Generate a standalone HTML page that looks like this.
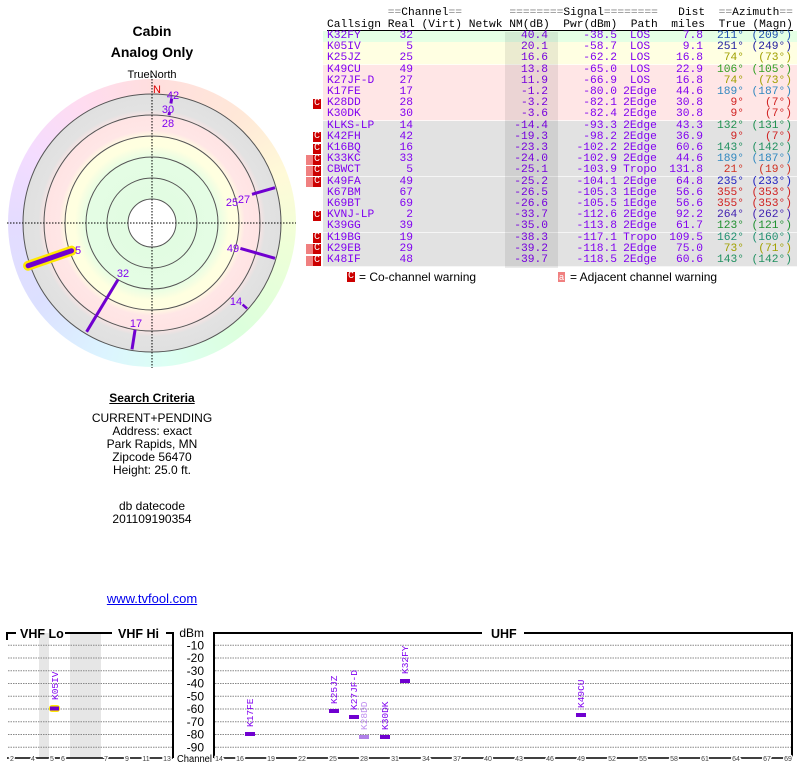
<!DOCTYPE html>
<html><head><meta charset="utf-8"><style>
body{margin:0;width:800px;height:768px;background:#fff;position:relative;overflow:hidden;font-family:"Liberation Sans",sans-serif}
.a{position:absolute}
.ctr{position:absolute;left:0;width:304px;text-align:center;font-size:12px;color:#000;line-height:13px}
.mono{font-family:"Liberation Mono",monospace;font-size:11.25px;line-height:12px;white-space:pre}
.row{position:absolute;left:323px;width:474px;height:11px;border-bottom:1px solid rgba(255,255,255,.7)}
.row span{position:absolute;top:-1px;font-family:"Liberation Mono",monospace;font-size:11.25px;color:#8000f0;white-space:pre}
.cs{left:4px}.rl{right:384px}.nm{right:249px}.pw{right:180px}.pa{left:297px;width:40px;text-align:center}.di{right:94px}.tr{right:53px}.mg{right:5px}
.g{background:#e4ffe4}.y{background:#ffffe2}.p{background:#ffe6e6}.gr{background:#e2e2e2}
.cb{position:absolute;left:313px;width:8px;height:10px;background:#c00;color:#fff;font-family:"Liberation Mono",monospace;font-size:10px;line-height:10px;text-align:center}
.ab{position:absolute;left:306px;width:7px;height:10px;background:#f08080}
</style></head><body>

<div class="ctr" style="top:23px;font-size:14px;font-weight:bold;line-height:16px">Cabin</div>
<div class="ctr" style="top:44px;font-size:14px;font-weight:bold;line-height:16px">Analog Only</div>
<div class="ctr" style="top:69px;font-size:11px">TrueNorth</div>

<div class="a" style="left:8px;top:79px;width:288px;height:288px;border-radius:50%;background:conic-gradient(#ffdede 0deg,#ffe8d8 40deg,#fffad8 70deg,#eeffd8 100deg,#dcffdc 140deg,#dcfff4 175deg,#dcf4ff 200deg,#dce0ff 235deg,#e4dcff 270deg,#f4dcff 300deg,#ffdcf0 330deg,#ffdede 360deg)"></div>

<svg class="a" style="left:0;top:0" width="310" height="380">
<defs><radialGradient id="rg" gradientUnits="userSpaceOnUse" cx="152" cy="223" r="129">
<stop offset="0.18" stop-color="#e2fce2"/><stop offset="0.5" stop-color="#e4fde4"/><stop offset="0.6" stop-color="#ffffe0"/><stop offset="0.66" stop-color="#ffffe0"/><stop offset="0.72" stop-color="#ffe6e6"/><stop offset="0.82" stop-color="#ffe4e4"/><stop offset="0.88" stop-color="#e2e2e2"/><stop offset="1" stop-color="#e0e0e0"/></radialGradient></defs>
<circle cx="152" cy="223" r="129" fill="url(#rg)" stroke="#555" stroke-width="1"/>
<g fill="none" stroke="#555" stroke-width="1">
<circle cx="152" cy="223" r="108"/><circle cx="152" cy="223" r="87"/><circle cx="152" cy="223" r="66"/><circle cx="152" cy="223" r="45"/></g>
<circle cx="152" cy="223" r="24" fill="#fff" stroke="#555"/>
<line x1="7" y1="223" x2="296" y2="223" stroke="#000" stroke-dasharray="1.5,1.5"/>
<line x1="152" y1="76" x2="152" y2="368" stroke="#000" stroke-dasharray="1.5,1.5"/>
<g stroke-linecap="round">
<line x1="71.6" y1="250.7" x2="28.1" y2="265.7" stroke="#ffe800" stroke-width="10"/>
<line x1="71.6" y1="250.7" x2="28.1" y2="265.7" stroke="#7000d0" stroke-width="5"/>
</g>
<g stroke="#7000d0" stroke-width="3">
<line x1="118" y1="279.6" x2="86.6" y2="331.8"/>
<line x1="135.1" y1="329.7" x2="132" y2="349.4"/>
<line x1="252" y1="194.3" x2="275" y2="187.7"/>
<line x1="240.4" y1="248.4" x2="275" y2="258.3"/>
<line x1="242.6" y1="304.6" x2="247.1" y2="308.6" stroke-width="2.5"/>
<line x1="170.9" y1="103.5" x2="171.7" y2="98.5"/>
<line x1="169" y1="115.3" x2="169.5" y2="112.3"/>
</g>
<g font-family="Liberation Sans,sans-serif" font-size="11" fill="#8000f0" text-anchor="middle">
<text x="157" y="93" fill="#d00">N</text>
<text x="173" y="99">42</text><text x="168" y="113">30</text><text x="168" y="127">28</text>
<text x="232" y="206">25</text><text x="244" y="203">27</text>
<text x="78" y="254">5</text><text x="233" y="252">49</text>
<text x="123" y="277">32</text><text x="136" y="327">17</text><text x="236" y="305">14</text>
</g>
</svg>

<div class="ctr" style="top:392px;font-weight:bold;text-decoration:underline">Search Criteria</div>
<div class="ctr" style="top:412px">CURRENT+PENDING<br>Address: exact<br>Park Rapids, MN<br>Zipcode 56470<br>Height: 25.0 ft.</div>
<div class="ctr" style="top:500px">db datecode<br>201109190354</div>
<div class="ctr" style="top:592px;color:#0000ee;text-decoration:underline;font-size:13px">www.tvfool.com</div>

<!-- table header -->
<div class="a mono" style="left:327px;top:7px;color:#000">         <span style="color:#888">==</span>Channel<span style="color:#888">==</span>       <span style="color:#888">========</span>Signal<span style="color:#888">========</span>   Dist  <span style="color:#888">==</span>Azimuth<span style="color:#888">==</span></div>
<div class="a mono" style="left:327px;top:19px;color:#000">Callsign Real (Virt) Netwk NM(dB)  Pwr(dBm)  Path  miles  True (Magn)</div>
<div class="a" style="left:327px;top:30px;width:466px;height:1px;background:#000"></div>
<div class="a" style="left:505px;top:32px;width:53px;height:236px;background:rgba(0,0,0,.08);z-index:2"></div>

<div class="row g" style="top:31px"><span class="cs">K32FY</span><span class="rl">32</span><span class="nm">40.4</span><span class="pw">-38.5</span><span class="pa">LOS</span><span class="di">7.8</span><span class="tr" style="color:#2050b0">211°</span><span class="mg" style="color:#2050b0">(209°)</span></div>
<div class="row y" style="top:42.2px"><span class="cs">K05IV</span><span class="rl">5</span><span class="nm">20.1</span><span class="pw">-58.7</span><span class="pa">LOS</span><span class="di">9.1</span><span class="tr" style="color:#2020a0">251°</span><span class="mg" style="color:#2020a0">(249°)</span></div>
<div class="row y" style="top:53.4px"><span class="cs">K25JZ</span><span class="rl">25</span><span class="nm">16.6</span><span class="pw">-62.2</span><span class="pa">LOS</span><span class="di">16.8</span><span class="tr" style="color:#a0a000">74°</span><span class="mg" style="color:#a0a000">(73°)</span></div>
<div class="row p" style="top:64.6px"><span class="cs">K49CU</span><span class="rl">49</span><span class="nm">13.8</span><span class="pw">-65.0</span><span class="pa">LOS</span><span class="di">22.9</span><span class="tr" style="color:#30a020">106°</span><span class="mg" style="color:#30a020">(105°)</span></div>
<div class="row p" style="top:75.8px"><span class="cs">K27JF-D</span><span class="rl">27</span><span class="nm">11.9</span><span class="pw">-66.9</span><span class="pa">LOS</span><span class="di">16.8</span><span class="tr" style="color:#a0a000">74°</span><span class="mg" style="color:#a0a000">(73°)</span></div>
<div class="row p" style="top:87px"><span class="cs">K17FE</span><span class="rl">17</span><span class="nm">-1.2</span><span class="pw">-80.0</span><span class="pa">2Edge</span><span class="di">44.6</span><span class="tr" style="color:#3088c0">189°</span><span class="mg" style="color:#3088c0">(187°)</span></div>
<div class="row p" style="top:98.2px"><span class="cs">K28DD</span><span class="rl">28</span><span class="nm">-3.2</span><span class="pw">-82.1</span><span class="pa">2Edge</span><span class="di">30.8</span><span class="tr" style="color:#d02020">9°</span><span class="mg" style="color:#d02020">(7°)</span></div>
<div class="row p" style="top:109.4px"><span class="cs">K30DK</span><span class="rl">30</span><span class="nm">-3.6</span><span class="pw">-82.4</span><span class="pa">2Edge</span><span class="di">30.8</span><span class="tr" style="color:#d02020">9°</span><span class="mg" style="color:#d02020">(7°)</span></div>
<div class="row gr" style="top:120.6px"><span class="cs">KLKS-LP</span><span class="rl">14</span><span class="nm">-14.4</span><span class="pw">-93.3</span><span class="pa">2Edge</span><span class="di">43.3</span><span class="tr" style="color:#209050">132°</span><span class="mg" style="color:#209050">(131°)</span></div>
<div class="row gr" style="top:131.8px"><span class="cs">K42FH</span><span class="rl">42</span><span class="nm">-19.3</span><span class="pw">-98.2</span><span class="pa">2Edge</span><span class="di">36.9</span><span class="tr" style="color:#d02020">9°</span><span class="mg" style="color:#d02020">(7°)</span></div>
<div class="row gr" style="top:143px"><span class="cs">K16BQ</span><span class="rl">16</span><span class="nm">-23.3</span><span class="pw">-102.2</span><span class="pa">2Edge</span><span class="di">60.6</span><span class="tr" style="color:#209060">143°</span><span class="mg" style="color:#209060">(142°)</span></div>
<div class="row gr" style="top:154.2px"><span class="cs">K33KC</span><span class="rl">33</span><span class="nm">-24.0</span><span class="pw">-102.9</span><span class="pa">2Edge</span><span class="di">44.6</span><span class="tr" style="color:#3088c0">189°</span><span class="mg" style="color:#3088c0">(187°)</span></div>
<div class="row gr" style="top:165.4px"><span class="cs">CBWCT</span><span class="rl">5</span><span class="nm">-25.1</span><span class="pw">-103.9</span><span class="pa">Tropo</span><span class="di">131.8</span><span class="tr" style="color:#d03020">21°</span><span class="mg" style="color:#d03020">(19°)</span></div>
<div class="row gr" style="top:176.6px"><span class="cs">K49FA</span><span class="rl">49</span><span class="nm">-25.2</span><span class="pw">-104.1</span><span class="pa">2Edge</span><span class="di">64.8</span><span class="tr" style="color:#2020c0">235°</span><span class="mg" style="color:#2020c0">(233°)</span></div>
<div class="row gr" style="top:187.8px"><span class="cs">K67BM</span><span class="rl">67</span><span class="nm">-26.5</span><span class="pw">-105.3</span><span class="pa">1Edge</span><span class="di">56.6</span><span class="tr" style="color:#d02020">355°</span><span class="mg" style="color:#d02020">(353°)</span></div>
<div class="row gr" style="top:199px"><span class="cs">K69BT</span><span class="rl">69</span><span class="nm">-26.6</span><span class="pw">-105.5</span><span class="pa">1Edge</span><span class="di">56.6</span><span class="tr" style="color:#d02020">355°</span><span class="mg" style="color:#d02020">(353°)</span></div>
<div class="row gr" style="top:210.2px"><span class="cs">KVNJ-LP</span><span class="rl">2</span><span class="nm">-33.7</span><span class="pw">-112.6</span><span class="pa">2Edge</span><span class="di">92.2</span><span class="tr" style="color:#4020b0">264°</span><span class="mg" style="color:#4020b0">(262°)</span></div>
<div class="row gr" style="top:221.4px"><span class="cs">K39GG</span><span class="rl">39</span><span class="nm">-35.0</span><span class="pw">-113.8</span><span class="pa">2Edge</span><span class="di">61.7</span><span class="tr" style="color:#209030">123°</span><span class="mg" style="color:#209030">(121°)</span></div>
<div class="row gr" style="top:232.6px"><span class="cs">K19BG</span><span class="rl">19</span><span class="nm">-38.3</span><span class="pw">-117.1</span><span class="pa">Tropo</span><span class="di">109.5</span><span class="tr" style="color:#209070">162°</span><span class="mg" style="color:#209070">(160°)</span></div>
<div class="row gr" style="top:243.8px"><span class="cs">K29EB</span><span class="rl">29</span><span class="nm">-39.2</span><span class="pw">-118.1</span><span class="pa">2Edge</span><span class="di">75.0</span><span class="tr" style="color:#a0a000">73°</span><span class="mg" style="color:#a0a000">(71°)</span></div>
<div class="row gr" style="top:255px"><span class="cs">K48IF</span><span class="rl">48</span><span class="nm">-39.7</span><span class="pw">-118.5</span><span class="pa">2Edge</span><span class="di">60.6</span><span class="tr" style="color:#209060">143°</span><span class="mg" style="color:#209060">(142°)</span></div>

<div class="cb" style="top:98.5px">C</div>
<div class="cb" style="top:132px">C</div>
<div class="cb" style="top:143.5px">C</div>
<div class="ab" style="top:154.5px"></div><div class="cb" style="top:154.5px">C</div>
<div class="ab" style="top:165.5px"></div><div class="cb" style="top:165.5px">C</div>
<div class="ab" style="top:177px"></div><div class="cb" style="top:177px">C</div>
<div class="cb" style="top:210.5px">C</div>
<div class="cb" style="top:233px">C</div>
<div class="ab" style="top:244px"></div><div class="cb" style="top:244px">C</div>
<div class="ab" style="top:255.5px"></div><div class="cb" style="top:255.5px">C</div>

<div class="cb" style="left:347px;top:272px">C</div>
<div class="a" style="left:359px;top:270px;font-size:12px">= Co-channel warning</div>
<div class="a" style="left:558px;top:272px;width:7px;height:10px;background:#f08080;color:#fff;font-size:9px;line-height:10px;text-align:center">a</div>
<div class="a" style="left:570px;top:270px;font-size:12px">= Adjacent channel warning</div>

<!-- bottom chart -->
<svg class="a" style="left:0;top:620px" width="800" height="148" font-family="Liberation Sans,sans-serif">
<rect x="39" y="13" width="10" height="125" fill="#e6e6e6"/>
<rect x="70" y="13" width="31" height="125" fill="#e6e6e6"/>
<g stroke="#888" stroke-dasharray="1.5,1" stroke-width="1">
<line x1="8" y1="25.2" x2="172" y2="25.2"/><line x1="8" y1="38" x2="172" y2="38"/><line x1="8" y1="50.7" x2="172" y2="50.7"/><line x1="8" y1="63.5" x2="172" y2="63.5"/><line x1="8" y1="76.2" x2="172" y2="76.2"/><line x1="8" y1="89" x2="172" y2="89"/><line x1="8" y1="101.7" x2="172" y2="101.7"/><line x1="8" y1="114.5" x2="172" y2="114.5"/><line x1="8" y1="127.2" x2="172" y2="127.2"/>
<line x1="215" y1="25.2" x2="791" y2="25.2"/><line x1="215" y1="38" x2="791" y2="38"/><line x1="215" y1="50.7" x2="791" y2="50.7"/><line x1="215" y1="63.5" x2="791" y2="63.5"/><line x1="215" y1="76.2" x2="791" y2="76.2"/><line x1="215" y1="89" x2="791" y2="89"/><line x1="215" y1="101.7" x2="791" y2="101.7"/><line x1="215" y1="114.5" x2="791" y2="114.5"/><line x1="215" y1="127.2" x2="791" y2="127.2"/>
</g>
<g stroke="#000" stroke-width="2" fill="none">
<polyline points="7,20 7,13 16,13"/><line x1="65" y1="13" x2="112" y2="13"/><polyline points="166,13 173,13 173,138"/>
<polyline points="214,138 214,13 482,13"/><polyline points="524,13 792,13 792,138"/>
<line x1="7" y1="138" x2="173" y2="138" stroke-width="1.5"/><line x1="214" y1="138" x2="792" y2="138" stroke-width="1.5"/>
</g>
<g font-size="12.5" font-weight="bold" fill="#000"><text x="20" y="18">VHF Lo</text><text x="118" y="18">VHF Hi</text><text x="491" y="18">UHF</text></g>
<g font-size="12" text-anchor="end" fill="#000"><text x="204" y="17">dBm</text><text x="204" y="29.5">-10</text><text x="204" y="42">-20</text><text x="204" y="55">-30</text><text x="204" y="67.5">-40</text><text x="204" y="80.5">-50</text><text x="204" y="93">-60</text><text x="204" y="106">-70</text><text x="204" y="118.5">-80</text><text x="204" y="131.5">-90</text></g>
<text x="177" y="142" font-size="10" textLength="35" lengthAdjust="spacingAndGlyphs">Channel</text>
<g font-size="7" text-anchor="middle" fill="#444" stroke="#fff" stroke-width="3" style="paint-order:stroke">
<text x="12" y="141">2</text><text x="33" y="141">4</text><text x="52" y="141">5</text><text x="63" y="141">6</text><text x="106" y="141">7</text><text x="127" y="141">9</text><text x="146" y="141">11</text><text x="167" y="141">13</text>
<text x="219" y="141">14</text><text x="240" y="141">16</text><text x="271" y="141">19</text><text x="302" y="141">22</text><text x="333" y="141">25</text><text x="364" y="141">28</text><text x="395" y="141">31</text><text x="426" y="141">34</text><text x="457" y="141">37</text><text x="488" y="141">40</text><text x="519" y="141">43</text><text x="550" y="141">46</text><text x="581" y="141">49</text><text x="612" y="141">52</text><text x="643" y="141">55</text><text x="674" y="141">58</text><text x="705" y="141">61</text><text x="736" y="141">64</text><text x="767" y="141">67</text><text x="788" y="141">69</text>
</g>
<rect x="49" y="85" width="11" height="7" rx="3" fill="#ffe800"/>
<rect x="50" y="86.5" width="9" height="4" fill="#7000d0"/>
<rect x="245" y="112" width="10" height="4" fill="#7000d0"/>
<rect x="329" y="89" width="10" height="4" fill="#7000d0"/>
<rect x="349" y="95" width="10" height="4" fill="#7000d0"/>
<rect x="359" y="115" width="10" height="4" fill="#b080e8"/>
<rect x="380" y="115" width="10" height="4" fill="#7000d0"/>
<rect x="400" y="59" width="10" height="4" fill="#7000d0"/>
<rect x="576" y="93" width="10" height="4" fill="#7000d0"/>
<g font-size="9.5" fill="#8000f0" font-family="Liberation Mono,monospace">
<text transform="translate(58,80) rotate(-90)">K05IV</text>
<text transform="translate(253,107) rotate(-90)">K17FE</text>
<text transform="translate(337,84) rotate(-90)">K25JZ</text>
<text transform="translate(357,90) rotate(-90)">K27JF-D</text>
<text transform="translate(367,110) rotate(-90)" fill="#c090f0">K28DD</text>
<text transform="translate(388,110) rotate(-90)">K30DK</text>
<text transform="translate(408,54) rotate(-90)">K32FY</text>
<text transform="translate(584,88) rotate(-90)">K49CU</text>
</g>
</svg>
</body></html>
